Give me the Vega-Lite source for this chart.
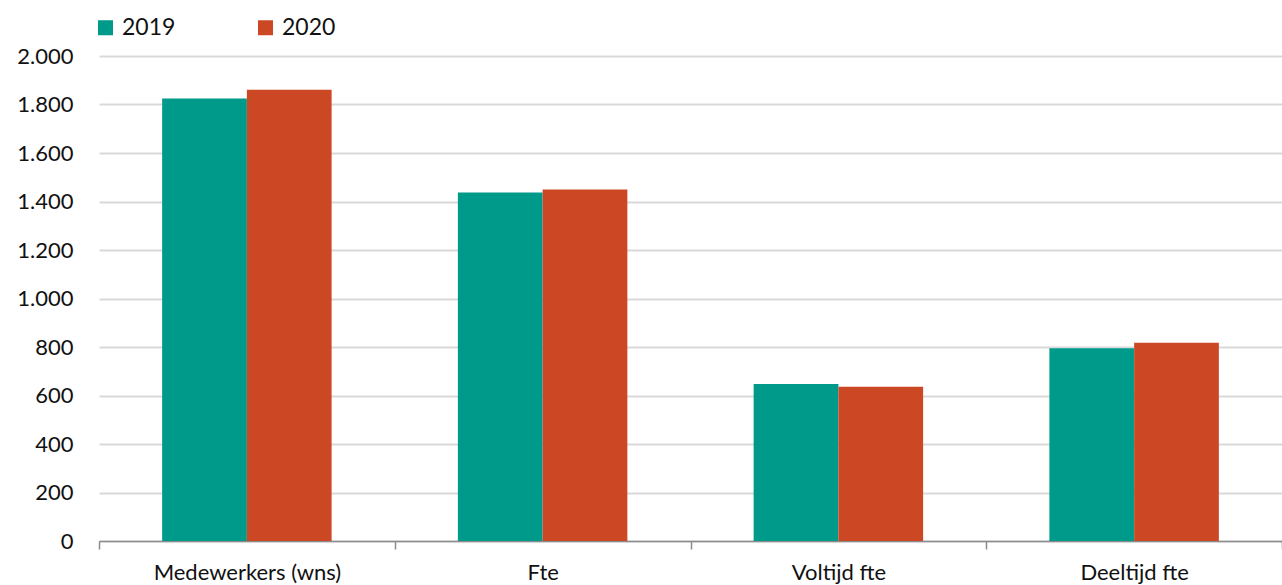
{
  "$schema": "https://vega.github.io/schema/vega-lite/v6.json",
  "width": 1183,
  "height": 485,
  "autosize": {"type": "none"},
  "padding": {"left": 99, "top": 56, "right": 0, "bottom": 44},
  "background": "white",
  "config": {
    "font": "Lato",
    "view": {"stroke": null},
    "axis": {"labelFont": "Lato", "labelColor": "#111111", "labelFontSize": 22}
  },
  "data": {
    "values": [
      {"categorie": "Medewerkers (wns)", "jaar": "2019", "waarde": 1825},
      {"categorie": "Medewerkers (wns)", "jaar": "2020", "waarde": 1861},
      {"categorie": "Fte", "jaar": "2019", "waarde": 1437},
      {"categorie": "Fte", "jaar": "2020", "waarde": 1449},
      {"categorie": "Voltijd fte", "jaar": "2019", "waarde": 647},
      {"categorie": "Voltijd fte", "jaar": "2020", "waarde": 636},
      {"categorie": "Deeltijd fte", "jaar": "2019", "waarde": 795},
      {"categorie": "Deeltijd fte", "jaar": "2020", "waarde": 818}
    ]
  },
  "mark": {"type": "bar"},
  "encoding": {
    "x": {
      "field": "categorie",
      "type": "nominal",
      "sort": null,
      "title": null,
      "scale": {"paddingInner": 0, "paddingOuter": 0},
      "axis": {
        "labelAngle": 0,
        "labelLimit": 0,
        "tickBand": "extent",
        "domainColor": "#8c8c8c",
        "domainWidth": 1.5,
        "tickColor": "#8c8c8c",
        "tickWidth": 1.5,
        "tickSize": 8,
        "labelPadding": 13,
        "grid": false
      }
    },
    "xOffset": {"field": "jaar", "type": "nominal", "scale": {"paddingInner": 0, "paddingOuter": 0.745}},
    "y": {
      "field": "waarde",
      "type": "quantitative",
      "title": null,
      "scale": {"domain": [0, 2000], "nice": false},
      "axis": {
        "values": [0, 200, 400, 600, 800, 1000, 1200, 1400, 1600, 1800, 2000],
        "labelExpr": "replace(format(datum.value, ','), ',', '.')",
        "domain": false,
        "ticks": false,
        "labelPadding": 26,
        "gridColor": "#d9d9d9",
        "gridWidth": 1.8
      }
    },
    "color": {
      "field": "jaar",
      "type": "nominal",
      "scale": {"domain": ["2019", "2020"], "range": ["#009a8b", "#cc4825"]},
      "legend": {
        "title": null,
        "orient": "none",
        "legendX": -5,
        "legendY": -40,
        "direction": "horizontal",
        "symbolType": "square",
        "symbolSize": 225,
        "symbolStrokeWidth": 0,
        "symbolOpacity": 1,
        "labelFontSize": 23,
        "labelColor": "#111111",
        "labelOffset": 5,
        "columnPadding": 78
      }
    }
  }
}
